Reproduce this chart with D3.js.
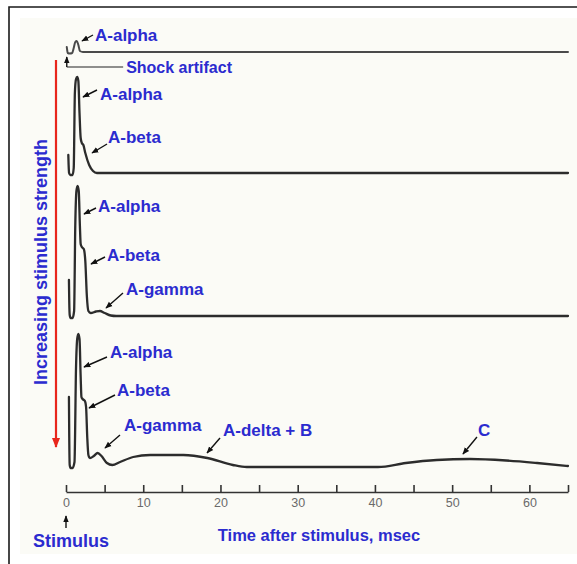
<!DOCTYPE html>
<html><head><meta charset="utf-8">
<script src="https://cdn.jsdelivr.net/npm/d3@7"></script>
<style>body{margin:0;background:#fff} svg{display:block}</style>
</head><body>
<svg id="chart" width="577" height="564"></svg>
<script>
// Compound action potential recorded from a peripheral nerve at four stimulus
// strengths. Each point is [time after stimulus (ms), amplitude (arbitrary units)].
const traceWeak = [[0.1,5],[0.15,2],[0.22,-1],[0.5,-1.5],[0.8,-1],[1.0,4],[1.2,10],[1.4,11],[1.6,7],[1.8,1],[2.2,0],[65,0]];
const traceModerate = [[0.3,18],[0.34,8],[0.4,0],[0.55,-2],[0.85,-2],[1.0,5],[1.15,80],[1.3,94],[1.45,96],[1.6,92],[1.75,60],[1.9,35],[2.05,30],[2.25,28],[2.5,20],[3.0,8],[3.5,2],[4.0,0],[65,0]];
const traceStrong = [[0.38,36],[0.42,15],[0.48,1],[0.6,-2],[0.85,-2],[1.05,5],[1.2,90],[1.35,125],[1.5,130],[1.65,125],[1.8,90],[1.9,72],[2.05,69],[2.3,67],[2.5,55],[2.7,20],[2.9,5],[3.2,3],[3.9,4.5],[4.4,5],[5.0,3],[5.8,0.5],[6.5,0],[65,0]];
const traceMaximal = [[0.38,70],[0.42,30],[0.48,2],[0.6,-1],[0.85,-1],[1.1,5],[1.3,100],[1.45,128],[1.6,133],[1.75,128],[1.9,90],[2.0,70],[2.15,68],[2.45,66],[2.6,60],[2.75,30],[2.9,12],[3.1,9],[3.6,11],[4.1,14],[4.6,11],[5.3,4],[6.0,2],[7.0,5],[8.7,10],[10.9,12],[15.2,12],[18.3,9],[21.6,2],[23.4,0],[40.4,0],[44,4],[48,7],[52.3,8],[57,6.5],[61,4],[65,1]];

// Time axis
const timeTicks = [0,5,10,15,20,25,30,35,40,45,50,55,60,65];
const timeTickLabels = [0,10,20,30,40,50,60];

// Fibre-group labels: which trace, and the point on it that each arrow indicates
const fibreLabels = [
  {trace:0, text:"A-alpha",     t:2.07, amp:11},
  {trace:1, text:"A-alpha",     t:2.2,  amp:76},
  {trace:1, text:"A-beta",      t:3.37, amp:20},
  {trace:2, text:"A-alpha",     t:2.33, amp:102},
  {trace:2, text:"A-beta",      t:3.24, amp:52},
  {trace:2, text:"A-gamma",     t:5.18, amp:8},
  {trace:3, text:"A-alpha",     t:2.33, amp:100},
  {trace:3, text:"A-beta",      t:2.98, amp:59},
  {trace:3, text:"A-gamma",     t:5.05, amp:19},
  {trace:3, text:"A-delta + B", t:18.26, amp:14},
  {trace:3, text:"C",           t:51.4, amp:13}
];

const traces = [traceWeak, traceModerate, traceStrong, traceMaximal];

// ---- layout ----
const baselines = [52, 173, 316, 467];
const axisY = 492;
// arrow tail / label offsets (px) relative to the arrow tip, per fibre label
const labelOffsets = [
  {tx:11,ty:-6, lx:13,ly:-6},
  {tx:14,ty:-7, lx:17,ly:-3},
  {tx:15,ty:-9, lx:16,ly:-16},
  {tx:12,ty:-6, lx:14,ly:-8},
  {tx:14,ty:-7, lx:16,ly:-9},
  {tx:17,ty:-15,lx:20,ly:-19},
  {tx:23,ty:-10,lx:26,ly:-15},
  {tx:26,ty:-13,lx:28,ly:-18},
  {tx:15,ty:-13,lx:19,ly:-23},
  {tx:13,ty:-15,lx:16,ly:-23},
  {tx:14,ty:-17,lx:15,ly:-24}
];

const BLUE = "#2b2bcf";
const FONT = "'Liberation Sans', Arial, Helvetica, sans-serif";

const svg = d3.select("#chart");

// frame and paper
svg.append("rect").attr("x",9).attr("y",7).attr("width",568).attr("height",557).attr("fill","#ffffff");
svg.append("rect").attr("x",20).attr("y",18).attr("width",557).attr("height",536).attr("fill","#fbfbf6");
svg.append("path").attr("d","M9,564V7H577").attr("fill","none").attr("stroke","#1a1a1a").attr("stroke-width",1.6);

const defs = svg.append("defs");
function marker(id, color, size) {
  defs.append("marker").attr("id",id).attr("viewBox","0 0 10 10")
    .attr("refX",9).attr("refY",5).attr("markerUnits","userSpaceOnUse")
    .attr("markerWidth",size).attr("markerHeight",size).attr("orient","auto")
    .append("path").attr("d","M0,1L10,5L0,9Z").attr("fill",color);
}
marker("blackHead", "#111", 7);
marker("redHead", "#e8261c", 10);

const x = d3.scaleLinear().domain([0, 65]).range([66, 568]);
const amp = d3.scaleLinear().domain([0, 140]).range([0, -140]);

const line = d3.line()
  .x(d => x(d[0]))
  .y(d => amp(d[1]))
  .curve(d3.curveMonotoneX);

traces.forEach((tr, i) => {
  svg.append("g").attr("transform", `translate(0,${baselines[i]})`)
    .append("path").datum(tr).attr("d", line)
    .attr("fill","none")
    .attr("stroke", i === 0 ? "#4a4a4a" : "#2c2c2c")
    .attr("stroke-width", i === 0 ? 2 : 2.3)
    .attr("stroke-linejoin","round").attr("stroke-linecap","round");
});

// fibre-group labels with pointer arrows
fibreLabels.forEach((d, i) => {
  const o = labelOffsets[i];
  const px = x(d.t), py = baselines[d.trace] + amp(d.amp);
  svg.append("line")
    .attr("x1", px + o.tx).attr("y1", py + o.ty)
    .attr("x2", px).attr("y2", py)
    .attr("stroke","#111").attr("stroke-width",1.4)
    .attr("marker-end","url(#blackHead)");
  svg.append("text")
    .attr("x", px + o.lx).attr("y", py + o.ly)
    .attr("dy","0.36em")
    .attr("font-family",FONT).attr("font-weight","bold").attr("font-size",17)
    .attr("fill",BLUE).text(d.text);
});

// shock artifact pointer on the weakest trace
const sx = x(0.1), sy = baselines[0] + 15;
svg.append("path").attr("d",`M${x(7.4)},${sy}H${sx}`)
  .attr("stroke","#222").attr("stroke-width",1.2).attr("fill","none");
svg.append("line").attr("x1",sx).attr("y1",sy).attr("x2",sx).attr("y2",sy-10)
  .attr("stroke","#111").attr("stroke-width",1.4).attr("marker-end","url(#blackHead)");
svg.append("text").attr("x", x(7.4)+3).attr("y", sy).attr("dy","0.36em")
  .attr("font-family",FONT).attr("font-weight","bold").attr("font-size",16)
  .attr("fill",BLUE).text("Shock artifact");

// increasing stimulus strength indicator
svg.append("line").attr("x1",56).attr("y1",60).attr("x2",56).attr("y2",447)
  .attr("stroke","#e8261c").attr("stroke-width",2.2).attr("marker-end","url(#redHead)");
svg.append("text").attr("transform","translate(47,262) rotate(-90)")
  .attr("text-anchor","middle")
  .attr("font-family",FONT).attr("font-weight","bold").attr("font-size",18)
  .attr("fill",BLUE).text("Increasing stimulus strength");

// time axis
const axis = d3.axisBottom(x)
  .tickValues(timeTicks)
  .tickSizeInner(-7).tickSizeOuter(0).tickPadding(6)
  .tickFormat(d => timeTickLabels.includes(d) ? d : "");
const gAxis = svg.append("g").attr("transform",`translate(0,${axisY})`).call(axis);
gAxis.select(".domain").attr("stroke","#333").attr("stroke-width",1.6);
gAxis.selectAll(".tick line").attr("stroke","#333").attr("stroke-width",1.6);
gAxis.selectAll(".tick text").attr("fill","#6a6a6a")
  .attr("font-family",FONT).attr("font-size",12.5);

// stimulus marker
svg.append("line").attr("x1",x(0)).attr("y1",axisY+36).attr("x2",x(0)).attr("y2",axisY+24)
  .attr("stroke","#111").attr("stroke-width",1.4).attr("marker-end","url(#blackHead)");
svg.append("text").attr("x",x(0)+5).attr("y",541).attr("dy","0.36em").attr("text-anchor","middle")
  .attr("font-family",FONT).attr("font-weight","bold").attr("font-size",18)
  .attr("fill",BLUE).text("Stimulus");
svg.append("text").attr("x",319).attr("y",535).attr("dy","0.36em").attr("text-anchor","middle")
  .attr("font-family",FONT).attr("font-weight","bold").attr("font-size",16.5)
  .attr("fill",BLUE).text("Time after stimulus, msec");
</script>
</body></html>
